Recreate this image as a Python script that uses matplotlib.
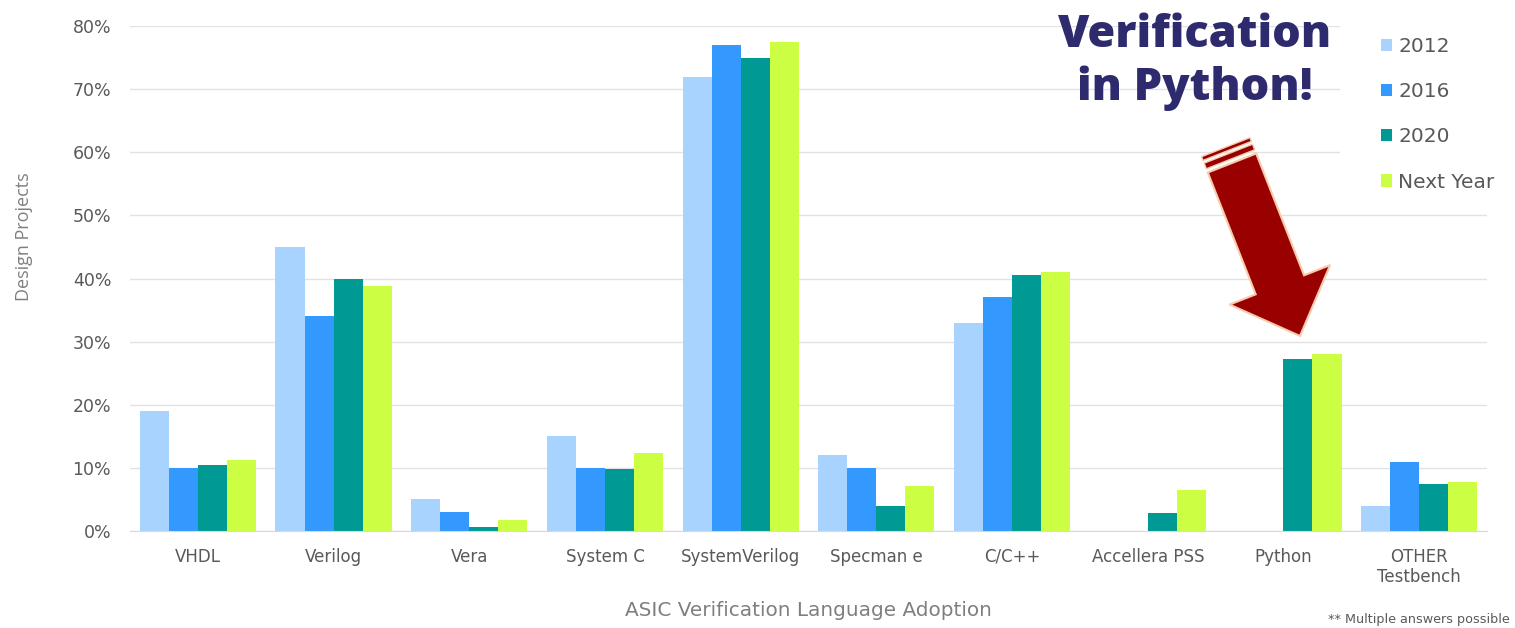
import numpy as np
import matplotlib
matplotlib.use("Agg")
import matplotlib.pyplot as plt
from matplotlib.patches import Polygon, Rectangle

categories = ["VHDL", "Verilog", "Vera", "System C", "SystemVerilog", "Specman e",
              "C/C++", "Accellera PSS", "Python", "OTHER\nTestbench"]
series_names = ["2012", "2016", "2020", "Next Year"]
v2012 = [19, 45, 5, 15, 72, 12, 33, 0, 0, 4]
v2016 = [10, 34, 3, 10, 77, 10, 37, 0, 0, 11]
v2020 = [10.5, 40, 0.6, 9.8, 75, 4, 40.5, 2.9, 27.2, 7.5]
vnext = [11.3, 38.8, 1.8, 12.4, 77.5, 7.1, 41.1, 6.5, 28.1, 7.7]
yticks = [0, 10, 20, 30, 40, 50, 60, 70, 80]
colors = ["#A9D3FF", "#3399FF", "#009994", "#CCFF44"]

W, H = 1515, 628
fig = plt.figure(figsize=(W / 100, H / 100), dpi=100)
ax = fig.add_axes([130 / W, 1 - 531 / H, (1487 - 130) / W, (531 - 26) / H])

x = np.arange(len(categories))
bw = 0.214
allv = [v2012, v2016, v2020, vnext]
for i, (vals, c, name) in enumerate(zip(allv, colors, series_names)):
    ax.bar(x + (i - 1.5) * bw, np.array(vals) / 100, width=bw, color=c, label=name, zorder=2)

ax.set_xlim(-0.5, len(categories) - 0.5)
ax.set_ylim(0, 0.8)
ax.set_yticks([t / 100 for t in yticks])
ax.set_yticklabels([f"{t}%" for t in yticks], fontsize=12.5, color="#595959")
ax.set_xticks(x)
ax.set_xticklabels(categories, fontsize=12, color="#595959", linespacing=1.2)
ax.tick_params(length=0, pad=12)
ax.tick_params(axis="y", pad=13.5)
ax.yaxis.grid(True, color="#E2E2E2", lw=1)
ax.set_axisbelow(True)
for s in ["top", "right", "left"]:
    ax.spines[s].set_visible(False)
ax.spines["bottom"].set_color("#D9D9D9")

fig.text(24 / W, 1 - 237 / H, "Design Projects", rotation=90, ha="center", va="center",
         fontsize=13, color="#7F7F7F", family="Open Sans")
fig.text(808 / W, 1 - 610 / H, "ASIC Verification Language Adoption", ha="center", va="center",
         fontsize=14.4, color="#7F7F7F")
fig.text(1510 / W, 1 - 620 / H, "** Multiple answers possible", ha="right", va="center",
         fontsize=9.2, color="#595959")

# white box behind legend
fig.patches.append(Rectangle((1340 / W, 1 - 200 / H), 150 / W, 200 / H, transform=fig.transFigure,
                             facecolor="white", edgecolor="none", zorder=1))

leg = fig.legend(loc="upper left", bbox_to_anchor=(1371 / W, 1 - 27 / H), frameon=False,
                 fontsize=14.5, handlelength=0.55, handleheight=0.55, handletextpad=0.3,
                 labelspacing=1.3, borderpad=0)
for t in leg.get_texts():
    t.set_color("#595959")

fig.text(1195 / W, 1 - 62 / H, "Verification\nin Python!", ha="center", va="center",
         fontsize=32.5, fontweight=800, color="#2E2A6E", family="Open Sans", linespacing=1.24)

# arrow
def P(px, py):
    return (px / W, 1 - py / H)

T = np.array([1232.0, 163.0])
tip = np.array([1300.0, 336.0])
u = (tip - T) / np.linalg.norm(tip - T)
n = np.array([u[1], -u[0]])
w, hw, hl = 52.0, 108.0, 55.0
B = tip - u * hl
pts = [T + n * w / 2, B + n * w / 2, B + n * hw / 2, tip, B - n * hw / 2, B - n * w / 2, T - n * w / 2]
fig.patches.append(Polygon([P(*p) for p in pts], closed=True, transform=fig.transFigure,
                           facecolor="#990000", edgecolor="#F8CBAD", lw=1.5, zorder=5))
for a, b in [(-10, -4), (-17, -13)]:
    sp = [T + u * a + n * w / 2, T + u * b + n * w / 2, T + u * b - n * w / 2, T + u * a - n * w / 2]
    fig.patches.append(Polygon([P(*p) for p in sp], closed=True, transform=fig.transFigure,
                               facecolor="#990000", edgecolor="#F8CBAD", lw=1.0, zorder=5))

fig.savefig("out.png", dpi=100, facecolor="white")
